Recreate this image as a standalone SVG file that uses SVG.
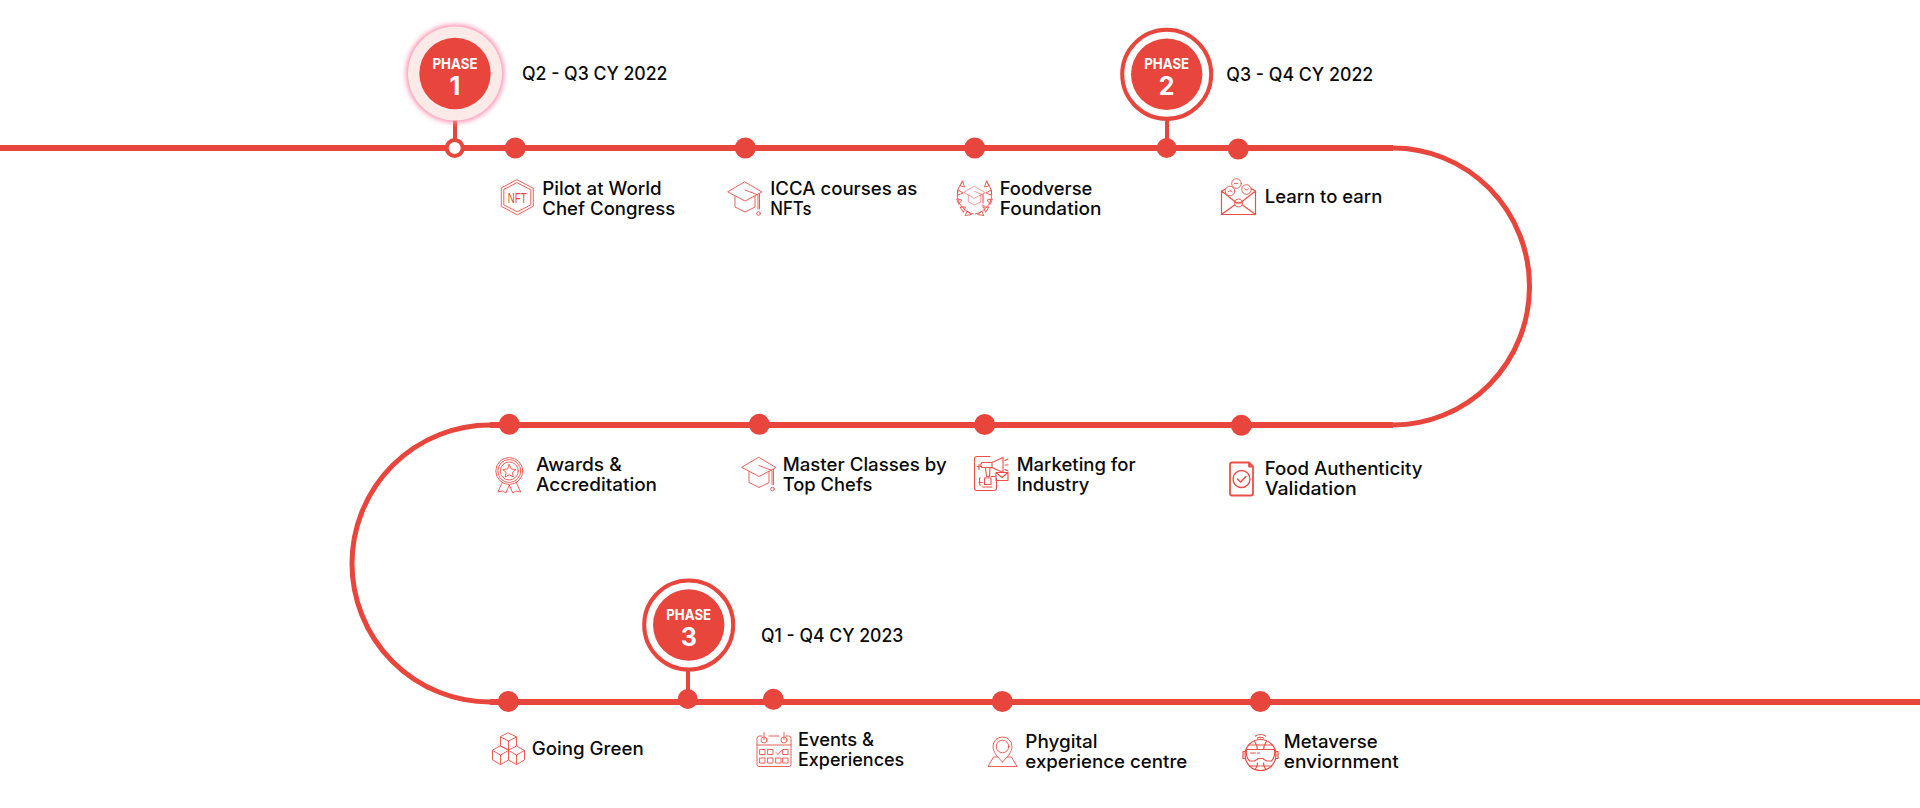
<svg xmlns="http://www.w3.org/2000/svg" width="1920" height="808" viewBox="0 0 1920 808">
<style>
.path{fill:none;stroke:#e8453c;stroke-width:6}
.arc{fill:none;stroke:#e8453c;stroke-width:5}
.stem{stroke:#e8453c;stroke-width:4}
.dot{fill:#e8453c}
.t{font-family:Inter,"Noto Sans","Liberation Sans",sans-serif;font-size:18.200px;font-weight:500;fill:#0a0a0a}
.ph{font-family:Inter,"Liberation Sans",sans-serif;font-weight:700;fill:#fff;text-anchor:middle}
.p{font-size:14.500px}
.n{font-size:25px}
.i{fill:none;stroke:#ea5048;stroke-width:.9;stroke-linejoin:round;stroke-linecap:round}
.i text{font-family:"Liberation Sans Narrow","Liberation Sans",sans-serif;font-size:15px;fill:#e8453c;stroke:none;text-anchor:middle}
</style>
<defs>
<filter id="glow" x="-30%" y="-30%" width="160%" height="160%"><feGaussianBlur stdDeviation="2.500"/></filter>
<g id="hat">
<path d="M0 -17 L17 -7 L0 2 L-17 -7Z"/>
<path d="M-10 -3 V8 L0 13 L10 8 V-3"/>
<path d="M0 -9 L13 -4 V10 M14.500 -5 V10"/>
<circle cx="13.500" cy="14.500" r="1.800"/>
</g>
</defs>
<g id="connectors">
<path class="path" d="M0 148 H1393 M1393 425 H490 M490 702 H1920"/>
<path class="arc" d="M1393 148 A136.500 138.500 0 0 1 1393 425 M490 425 A138 138.500 0 0 0 490 702"/>
<line class="stem" x1="455" y1="118" x2="455" y2="142"/>
<line class="stem" x1="1167" y1="118" x2="1167" y2="142"/>
<line class="stem" x1="688" y1="670" x2="688" y2="695"/>
</g>
<g id="phase1">
<circle cx="455" cy="73.500" r="49" fill="#ff8fb0" filter="url(#glow)"/>
<circle cx="455" cy="73.500" r="47" fill="#fbeae8"/>
<circle class="dot" cx="455" cy="73.500" r="35.700"/>
<text class="ph p" x="455" y="68.500" textLength="45" lengthAdjust="spacingAndGlyphs">PHASE</text>
<text class="ph n" x="455" y="94.500">1</text>
<circle cx="454.700" cy="148" r="8" fill="#fff" stroke="#e8453c" stroke-width="4"/>
<text class="t" x="522" y="80" textLength="145.500" lengthAdjust="spacingAndGlyphs">Q2 - Q3 CY 2022</text>
</g>
<g id="phase2">
<circle cx="1166.700" cy="74.300" r="44.500" fill="#fff" stroke="#e8453c" stroke-width="4"/>
<circle class="dot" cx="1166.700" cy="74.300" r="35.700"/>
<text class="ph p" x="1166.700" y="69" textLength="45" lengthAdjust="spacingAndGlyphs">PHASE</text>
<text class="ph n" x="1166.700" y="95">2</text>
<circle class="dot" cx="1166.700" cy="148" r="10"/>
<text class="t" x="1226.300" y="81" textLength="147" lengthAdjust="spacingAndGlyphs">Q3 - Q4 CY 2022</text>
</g>
<g id="phase3">
<circle cx="688.700" cy="625" r="44.500" fill="#fff" stroke="#e8453c" stroke-width="4"/>
<circle class="dot" cx="688.700" cy="625" r="35.700"/>
<text class="ph p" x="688.700" y="620" textLength="45" lengthAdjust="spacingAndGlyphs">PHASE</text>
<text class="ph n" x="688.700" y="646">3</text>
<circle class="dot" cx="687.700" cy="699" r="10"/>
<text class="t" x="761" y="641.700" textLength="142.300" lengthAdjust="spacingAndGlyphs">Q1 - Q4 CY 2023</text>
</g>
<g id="pilot">
<circle class="dot" cx="515.300" cy="148" r="10.500"/>
<g class="i" transform="translate(517.300 197.300)">
<path d="M0 -17.500 L16 -9 V9 L0 17.500 L-16 9 V-9Z"/><path d="M0 -14.500 L13.500 -7.500 V7.500 L0 14.500 L-13.500 7.500 V-7.500Z"/>
<text y="5.500" textLength="19" lengthAdjust="spacingAndGlyphs">NFT</text>
</g>
<text class="t" x="542.300" y="195" textLength="119.300" lengthAdjust="spacingAndGlyphs">Pilot at World</text>
<text class="t" x="542.300" y="215" textLength="133" lengthAdjust="spacingAndGlyphs">Chef Congress</text>
</g>
<g id="icca">
<circle class="dot" cx="745.300" cy="148" r="10.500"/>
<use class="i" href="#hat" transform="translate(745 199)"/>
<text class="t" x="770.300" y="195" textLength="147" lengthAdjust="spacingAndGlyphs">ICCA courses as</text>
<text class="t" x="770.300" y="215" textLength="41.300" lengthAdjust="spacingAndGlyphs">NFTs</text>
</g>
<g id="foodverse">
<circle class="dot" cx="974.700" cy="148" r="10.500"/>
<g class="i" transform="translate(974.500 198)">
<g transform="translate(0 -1) scale(.62)"><use href="#hat"/></g>
<path d="M-12 -16 C-18 -10 -19 0 -14 7 C-10 12 -6 15 -1 16 M12 -16 C18 -10 19 0 14 7 C10 12 6 15 1 16"/>
<path d="M-12 -17 l2 6 l-4 -1Z M-16.500 -8 l5 3 l-5 2Z M-17.500 1 l5 1 l-3 4Z M-14 9 l5 0 l-2 5Z M-7 13.500 l4 3 l-6 1Z M12 -17 l-2 6 l4 -1Z M16.500 -8 l-5 3 l5 2Z M17.500 1 l-5 1 l3 4Z M14 9 l-5 0 l2 5Z M7 13.500 l-4 3 l6 1Z"/>
</g>
<text class="t" x="999.700" y="195" textLength="92.700" lengthAdjust="spacingAndGlyphs">Foodverse</text>
<text class="t" x="999.700" y="215" textLength="101.700" lengthAdjust="spacingAndGlyphs">Foundation</text>
</g>
<g id="learn">
<circle class="dot" cx="1238.300" cy="149" r="10.500"/>
<g class="i" transform="translate(1238.500 197)">
<path stroke-width="1.200" d="M-17 -6 V17.500 H17 V-6 M-17 -6 L-11 -9 M17 -6 L12 -9 M-17 -6 L-3 5 Q0 7.500 3 5 L17 -6 M-17 17.500 L-4 8 M17 17.500 L4 8"/>
<circle cx="-8.500" cy="-6" r="4.800" fill="#fff"/><circle cx="8" cy="-7.500" r="4.800" fill="#fff"/><circle cx="-2" cy="-13.500" r="4.800" fill="#fff"/>
<path d="M-4 -13.500 h3 M-10.500 -5.500 q2 -2 4 0 M6 -8 q2 2 4 0"/>
<circle cx="0" cy="6" r="4"/><path d="M-2 6 q2 -2 4 0"/>
</g>
<text class="t" x="1264.700" y="203.300" textLength="117.700" lengthAdjust="spacingAndGlyphs">Learn to earn</text>
</g>
<g id="food-auth">
<circle class="dot" cx="1241.300" cy="425.300" r="10.500"/>
<g class="i" transform="translate(1241.500 479)">
<path stroke-width="1.800" d="M-9.500 -16.500 H7.500 L11.500 -12.500 V14.500 Q11.500 16.500 9.500 16.500 H-9.500 Q-11.500 16.500 -11.500 14.500 V-14.500 Q-11.500 -16.500 -9.500 -16.500Z M7.500 -16.500 V-12.500 H11.500"/>
<circle cy="0" r="8.500" stroke-width="1.400"/><path stroke-width="1.500" d="M-4 0 L-1 3 L4.500 -2.500"/>
</g>
<text class="t" x="1264.700" y="475" textLength="157.700" lengthAdjust="spacingAndGlyphs">Food Authenticity</text>
<text class="t" x="1264.700" y="495" textLength="92" lengthAdjust="spacingAndGlyphs">Validation</text>
</g>
<g id="marketing">
<circle class="dot" cx="984.700" cy="424.500" r="10.500"/>
<g class="i" transform="translate(991 473.500)">
<path stroke-width="1.100" d="M-1 -17 H-14 Q-16.500 -17 -16.500 -14.500 V14.500 Q-16.500 17 -14.500 17 H3 Q5.500 17 5.500 14.500 V5"/>
<path stroke-width="1.100" d="M-9 -11 H1 L12 -16 V-1 L1 -6 H-9 Q-11.500 -8.500 -9 -11Z M1 -11 V-6 M-5.500 -6 L-4.500 3 H-1.500 L-1 -6"/>
<path stroke-width="1.100" d="M5 -1 H17 V7 H5Z M5 -1 L11 4 L17 -1 M-12 -9 V-4 M-14 -7 H-10 M-12 9 H-9 M-11 4 Q-12 6 -11 12 M-6.500 4.500 H0 V11 H-6.500Z M-8.500 13.500 H1 M0 3 H5 M14 -13 l3 -1.500 M14 -8.500 h3 M14 -4 l3 1.500"/>
</g>
<text class="t" x="1016.700" y="471" textLength="119" lengthAdjust="spacingAndGlyphs">Marketing for</text>
<text class="t" x="1016.700" y="491" textLength="72.700" lengthAdjust="spacingAndGlyphs">Industry</text>
</g>
<g id="master">
<circle class="dot" cx="759.300" cy="424.300" r="10.500"/>
<use class="i" href="#hat" transform="translate(759 474.500)"/>
<text class="t" x="782.700" y="471" textLength="164" lengthAdjust="spacingAndGlyphs">Master Classes by</text>
<text class="t" x="782.700" y="491" textLength="89.700" lengthAdjust="spacingAndGlyphs">Top Chefs</text>
</g>
<g id="awards">
<circle class="dot" cx="509.300" cy="424.300" r="10.500"/>
<g class="i" transform="translate(509.300 471)">
<circle r="13.500"/><circle r="11.500"/><circle r="9"/>
<path d="M0 -6.500 L2 -2 L6.500 -1.500 L3.200 1.500 L4 6 L0 3.700 L-4 6 L-3.200 1.500 L-6.500 -1.500 L-2 -2Z"/>
<path d="M-7 11.500 L-11.500 21 L-6.500 20 L-3.500 22 L0 14 L3.500 22 L6.500 20 L11.500 21 L7 11.500"/>
</g>
<text class="t" x="536" y="471" textLength="85.700" lengthAdjust="spacingAndGlyphs">Awards &amp;</text>
<text class="t" x="536" y="491" textLength="121" lengthAdjust="spacingAndGlyphs">Accreditation</text>
</g>
<g id="green">
<circle class="dot" cx="508.300" cy="701.500" r="10.500"/>
<g class="i" transform="translate(508.500 749)">
<path d="M0 -16 L8 -12 V-3 L0 1 L-8 -3 V-12Z M-8 -12 L0 -8 L8 -12 M0 -8 V1"/>
<path d="M-8 -3 L0 1 V11 L-8 15.500 L-16 11 V1.500Z M-16 1.500 L-8 6 L0 1.500 M-8 6 V15.500"/>
<path d="M8 -3 L16 1.500 V11 L8 15.500 L0 11 M0 1.500 L8 6 L16 1.500 M8 6 V15.500"/>
</g>
<text class="t" x="531.700" y="755" textLength="112" lengthAdjust="spacingAndGlyphs">Going Green</text>
</g>
<g id="events">
<circle class="dot" cx="773.300" cy="699.300" r="10.500"/>
<g class="i" transform="translate(774 749.500)">
<path d="M-12 -13.500 H-14.500 Q-17 -13.500 -17 -11 V15 Q-17 17 -15 17 H15 Q17 17 17 15 V-11 Q17 -13.500 15 -13.500 H12 M-5 -13.500 H5 M-17 -4.500 H17"/>
<path d="M-10 -17 V-10 M10 -17 V-10"/><circle cx="-10" cy="-9.500" r="3"/><circle cx="10" cy="-9.500" r="3"/>
<path d="M-14 0 h5 v5 h-5Z M-6 0 h5 v5 h-5Z M9 0 h5 v5 h-5Z M-14 8.500 h5 v5 h-5Z M-6 8.500 h5 v5 h-5Z M2 8.500 h5 v5 h-5Z M9 8.500 h5 v5 h-5Z M2 3 l2 2 l3.500 -4"/>
</g>
<text class="t" x="798" y="745.700" textLength="76" lengthAdjust="spacingAndGlyphs">Events &amp;</text>
<text class="t" x="798" y="765.700" textLength="106.300" lengthAdjust="spacingAndGlyphs">Experiences</text>
</g>
<g id="phygital">
<circle class="dot" cx="1002.300" cy="701.500" r="10.500"/>
<g class="i" transform="translate(1002.500 752)">
<path d="M0 10 C-5 5 -9.500 0 -9.500 -5.500 A9.500 9.500 0 0 1 9.500 -5.500 C9.500 0 5 5 0 10Z"/>
<circle cy="-5.500" r="6.300"/>
<path d="M-5 5 H-9 L-14.500 14.500 H14.500 L9 5 H5"/>
</g>
<text class="t" x="1025.300" y="748.300" textLength="72.300" lengthAdjust="spacingAndGlyphs">Phygital</text>
<text class="t" x="1025.300" y="768.300" textLength="162" lengthAdjust="spacingAndGlyphs">experience centre</text>
</g>
<g id="metaverse">
<circle class="dot" cx="1260.300" cy="701.500" r="10.500"/>
<g class="i" transform="translate(1260.500 755)">
<circle cy="0" r="15.500" stroke-width="1.200"/>
<path stroke-width="1.200" d="M-15 -5 H15 M-12 -10 H12 M-11 11 H11 M-6 -14 Q-3 -9 -3 -5 M6 -14 Q3 -9 3 -5 M-5 14 Q-3 11 -3 8 M5 14 Q3 11 3 8"/>
<path stroke-width="1.200" fill="#fff" d="M-14 -5.500 H14 Q15 2 11 6 H6 L2 3.500 H-2 L-6 6 H-11 Q-15 2 -14 -5.500Z"/>
<path stroke-width="1.200" d="M-15 -3.500 H-17.500 V3.500 H-15 M15 -3.500 H17.500 V3.500 H15 M-10 -2 H-5 M-3 -2 H-1"/>
<path stroke-width="1.200" d="M-5 -19 Q0 -22 5 -19 M-3 -17 Q0 -18.500 3 -17 M0 -16 V-15.500"/>
</g>
<text class="t" x="1283.700" y="748.300" textLength="94" lengthAdjust="spacingAndGlyphs">Metaverse</text>
<text class="t" x="1283.700" y="768.300" textLength="115" lengthAdjust="spacingAndGlyphs">enviornment</text>
</g>
</svg>
